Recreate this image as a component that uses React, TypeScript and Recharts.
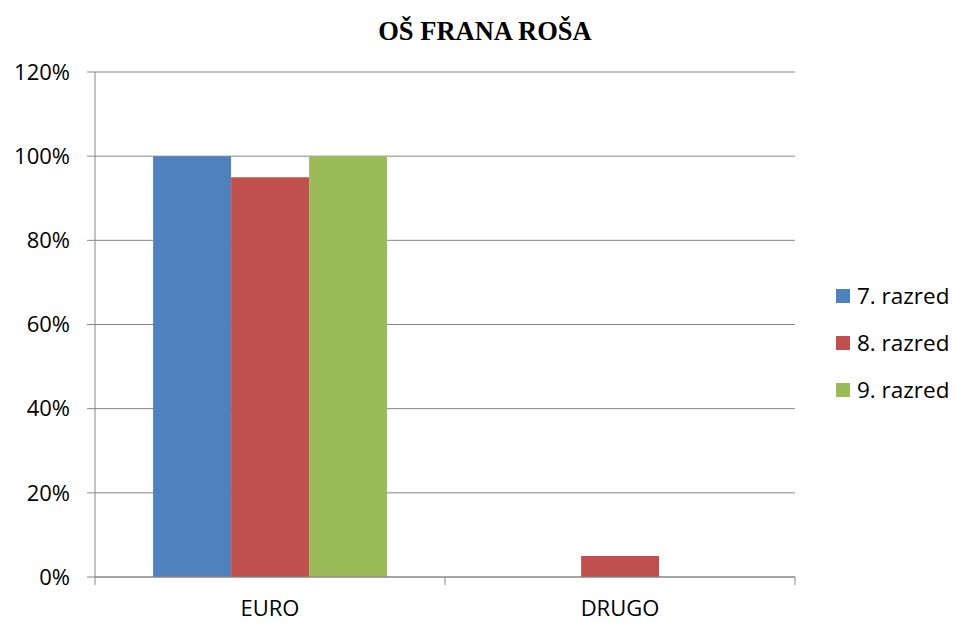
import { BarChart, Bar, XAxis, YAxis, CartesianGrid, Legend } from 'recharts';

const categories = ['EURO', 'DRUGO'];
const razred7 = [100, 0];
const razred8 = [95, 5];
const razred9 = [100, 0];
const yTicks = [0, 20, 40, 60, 80, 100, 120];

const seriesNames = ['7. razred', '8. razred', '9. razred'];
const colors = ['#4F81BD', '#C0504D', '#9BBB59'];

const data = categories.map((name, i) => ({
  name,
  r7: razred7[i],
  r8: razred8[i],
  r9: razred9[i],
}));

const FONT = '"Open Sans", sans-serif';
const AXIS = '#878787';

// category label plus boundary tick marks (Excel puts ticks between categories)
const XTick = (props: any) => {
  const { x, y, payload, index } = props;
  const half = 175;
  return (
    <g>
      <line x1={x - half} y1={y} x2={x - half} y2={y + 8} stroke={AXIS} strokeWidth={1} />
      {index === categories.length - 1 && (
        <line x1={x + half} y1={y} x2={x + half} y2={y + 8} stroke={AXIS} strokeWidth={1} />
      )}
      <text x={x} y={y + 39} textAnchor="middle" fill="#000" fontSize={22} fontFamily={FONT}>
        {payload.value}
      </text>
    </g>
  );
};

const LegendContent = () => (
  <div style={{ fontFamily: FONT, fontSize: 22.5, color: '#000' }}>
    {seriesNames.map((s, i) => (
      <div key={s} style={{ display: 'flex', alignItems: 'center', height: 47 }}>
        <span style={{ width: 14, height: 14, background: colors[i], marginRight: 7, display: 'inline-block' }} />
        <span>{s}</span>
      </div>
    ))}
  </div>
);

export default function App() {
  return (
    <div style={{ position: 'absolute', left: 0, top: 0, width: 956, height: 623, background: '#fff' }}>
      <BarChart
        width={956}
        height={623}
        data={data}
        margin={{ top: 72, right: 161, left: 0, bottom: 0 }}
        barCategoryGap="16.6%"
        barGap={0}
      >
        <text x={485} y={40} textAnchor="middle" fontFamily='"Liberation Serif", serif' fontWeight="bold" fontSize={26.5} fill="#000">
          OŠ FRANA ROŠA
        </text>
        <CartesianGrid vertical={false} stroke={AXIS} strokeWidth={1} />
        <XAxis
          dataKey="name"
          height={46}
          stroke={AXIS}
          tickLine={false}
          tickSize={0}
          tickMargin={0}
          tick={<XTick />}
          interval={0}
        />
        <YAxis
          width={95}
          domain={[0, 120]}
          ticks={yTicks}
          interval={0}
          stroke={AXIS}
          tickSize={8}
          tickMargin={17}
          tickFormatter={(v: number) => `${v}%`}
          tick={{ fill: '#000', fontSize: 22, fontFamily: FONT }}
        />
        <Legend
          layout="horizontal"
          verticalAlign="middle"
          align="center"
          content={<LegendContent />}
          wrapperStyle={{ left: 836, top: 272, width: 120, height: 141 }}
        />
        <Bar dataKey="r7" name={seriesNames[0]} fill={colors[0]} isAnimationActive={false} />
        <Bar dataKey="r8" name={seriesNames[1]} fill={colors[1]} isAnimationActive={false} />
        <Bar dataKey="r9" name={seriesNames[2]} fill={colors[2]} isAnimationActive={false} />
      </BarChart>
    </div>
  );
}
